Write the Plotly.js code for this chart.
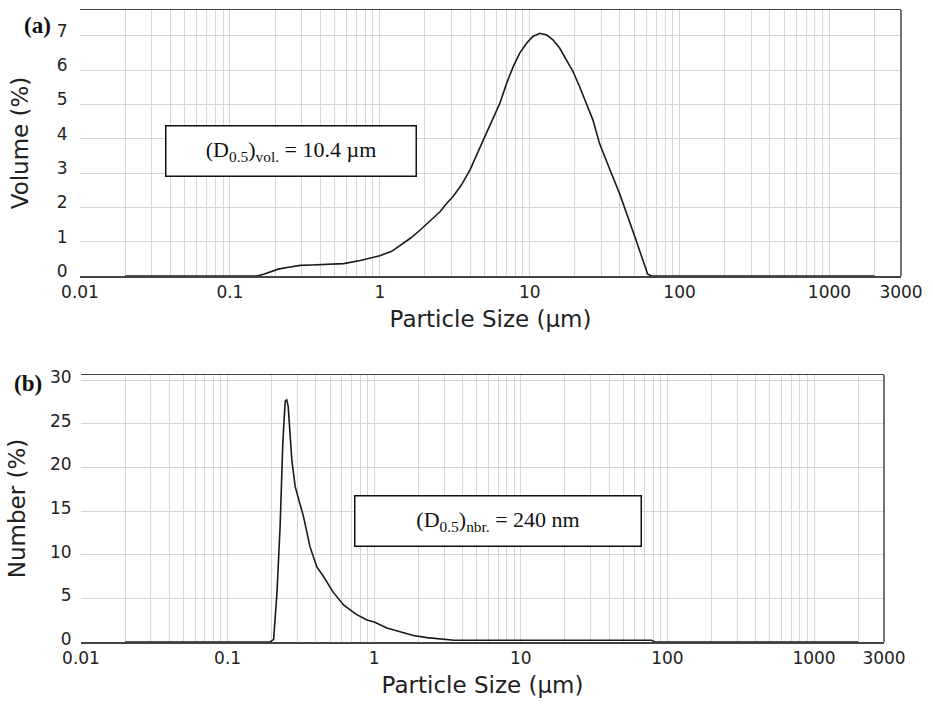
<!DOCTYPE html>
<html><head><meta charset="utf-8">
<script src="https://cdn.plot.ly/plotly-3.0.1.min.js"></script>
<style>html,body{margin:0;padding:0;background:#fff}</style>
</head><body><div id="chart" style="width:933px;height:707px"></div>
<script>
// Panel (a): volume distribution
const volSize = [0.02, 0.05, 0.1, 0.152, 0.17, 0.187, 0.21, 0.241, 0.27, 0.295, 0.35, 0.445, 0.574, 0.741, 0.85, 1.0, 1.2, 1.37, 1.6, 1.86, 2.2, 2.52, 2.8, 3.1, 3.5, 4.0, 4.9, 5.6, 6.32, 7.0, 7.76, 8.6, 9.53, 10.5, 11.7, 13.0, 14.3, 15.8, 17.6, 19.5, 21.5, 24.0, 26.4, 29.3, 32, 35, 39.8, 43, 48.5, 51.2, 54, 56.6, 59, 61.2, 64.9, 100, 500, 1000, 2000];
const volPct  = [0, 0, 0, 0, 0.06, 0.13, 0.2, 0.25, 0.29, 0.31, 0.32, 0.34, 0.36, 0.45, 0.52, 0.59, 0.72, 0.9, 1.1, 1.34, 1.62, 1.87, 2.12, 2.33, 2.65, 3.09, 3.96, 4.5, 5.03, 5.6, 6.1, 6.5, 6.78, 6.98, 7.07, 7.02, 6.88, 6.65, 6.3, 5.95, 5.52, 5.0, 4.55, 3.85, 3.45, 3.0, 2.4, 2.0, 1.34, 1.05, 0.75, 0.47, 0.22, 0.06, 0, 0, 0, 0, 0];
// Panel (b): number distribution
const nbrSize = [0.02, 0.1, 0.195, 0.206, 0.217, 0.228, 0.238, 0.247, 0.253, 0.259, 0.264, 0.274, 0.289, 0.313, 0.329, 0.365, 0.406, 0.451, 0.52, 0.618, 0.75, 0.891, 1.0, 1.22, 1.5, 1.85, 2.29, 2.97, 3.5, 10, 30, 78, 82, 200, 1000, 2000];
const nbrPct  = [0, 0, 0, 0.3, 5.6, 13.2, 22.8, 27.6, 27.75, 27.0, 24.7, 20.9, 17.8, 15.5, 14.4, 10.9, 8.6, 7.5, 5.8, 4.24, 3.2, 2.52, 2.3, 1.6, 1.18, 0.75, 0.5, 0.3, 0.2, 0.2, 0.2, 0.2, 0, 0, 0, 0];

const xTickVals = [0.01, 0.1, 1, 10, 100, 1000, 3000];
const xTickLabels = ['0.01', '0.1', '1', '10', '100', '1000', '3000'];
const volBoxText = '(D<sub>0.5</sub>)<sub>vol.</sub> = 10.4 µm';
const nbrBoxText = '(D<sub>0.5</sub>)<sub>nbr.</sub> = 240 nm';
const xTitle = 'Particle Size (µm)';
const yTitleA = 'Volume (%)';
const yTitleB = 'Number (%)';

// minor grid positions: 1..9 x 10^k
const gridVals = [];
for (let k = -2; k <= 3; k++) for (let m = 1; m <= 9; m++) { const v = m * Math.pow(10, k); if (v <= 3000.001) gridVals.push(v); }

const tickFont = {family: 'DejaVu Sans, Arial, sans-serif', size: 17, color: '#222'};
const titleFont = {family: 'DejaVu Sans, Arial, sans-serif', size: 23, color: '#222'};
const gridColor = '#d6d6d6';
const W = 933, H = 707;

function xAxis(domain, anchor) {
  return {
    type: 'log', domain: domain, anchor: anchor, automargin: false,
    range: [Math.log10(0.01), Math.log10(3000)],
    tickmode: 'array', tickvals: xTickVals, ticktext: xTickLabels,
    ticks: '', showgrid: true, gridcolor: gridColor, gridwidth: 1,
    minor: {tickmode: 'array', tickvals: gridVals, ticks: '', showgrid: true, gridcolor: gridColor, gridwidth: 1},
    showline: true, mirror: true, linecolor: '#444', linewidth: 1.5,
    zeroline: false, tickfont: tickFont,
    title: {text: xTitle, font: titleFont, standoff: 10}
  };
}
function yAxis(domain, pos, range, dtick, title, tlen, stand, shift) {
  return {
    domain: domain, anchor: 'free', position: pos, automargin: false, range: range,
    tickmode: 'linear', tick0: 0, dtick: dtick,
    ticks: 'outside', ticklen: tlen, tickcolor: 'rgba(0,0,0,0)',
    ticklabelshift: shift,
    showgrid: true, gridcolor: gridColor, gridwidth: 1,
    showline: false, zeroline: false, tickfont: tickFont,
    title: {text: title, font: titleFont, standoff: stand}
  };
}

const traces = [
  {x: volSize, y: volPct, xaxis: 'x', yaxis: 'y', mode: 'lines', line: {color: '#1a1a1a', width: 1.6}, hoverinfo: 'skip'},
  {x: nbrSize, y: nbrPct, xaxis: 'x2', yaxis: 'y2', mode: 'lines', line: {color: '#1a1a1a', width: 1.6}, hoverinfo: 'skip'}
];

const layout = {
  width: W, height: H, showlegend: false,
  margin: {l: 0, r: 0, t: 0, b: 0},
  paper_bgcolor: '#fff', plot_bgcolor: '#fff',
  xaxis: xAxis([80 / W, 901 / W], 'y'),
  yaxis: yAxis([1 - 276 / H, 1 - 10 / H], 80 / W, [0, 7.75], 1, yTitleA, 9, 20, -5),
  xaxis2: xAxis([81 / W, 884 / W], 'y2'),
  yaxis2: yAxis([1 - 642 / H, 1 - 375 / H], 81 / W, [0, 30.6], 5, yTitleB, 6, 16, -3),
  shapes: [
    {type: 'line', xref: 'x domain', yref: 'y domain', x0: 1, x1: 1, y0: 0, y1: 1, line: {color: '#444', width: 1.5}},
    {type: 'line', xref: 'x2 domain', yref: 'y2 domain', x0: 1, x1: 1, y0: 0, y1: 1, line: {color: '#444', width: 1.5}}
  ],
  annotations: [
    {xref: 'paper', yref: 'paper', x: 291 / W, y: 1 - 151 / H, xanchor: 'center', yanchor: 'middle',
     text: volBoxText, showarrow: false, width: 249, height: 49, borderpad: 0,
     bordercolor: '#111', borderwidth: 1.5, bgcolor: '#fff',
     font: {family: 'Liberation Serif, Times New Roman, serif', size: 22, color: '#111'}},
    {xref: 'paper', yref: 'paper', x: 498 / W, y: 1 - 521 / H, xanchor: 'center', yanchor: 'middle',
     text: nbrBoxText, showarrow: false, width: 285, height: 49, borderpad: 0,
     bordercolor: '#111', borderwidth: 1.5, bgcolor: '#fff',
     font: {family: 'Liberation Serif, Times New Roman, serif', size: 22, color: '#111'}},
    {xref: 'paper', yref: 'paper', x: 37 / W, y: 1 - 25 / H, xanchor: 'center', yanchor: 'middle',
     text: '<b>(a)</b>', showarrow: false,
     font: {family: 'Liberation Serif, Times New Roman, serif', size: 23, color: '#111'}},
    {xref: 'paper', yref: 'paper', x: 28 / W, y: 1 - 383 / H, xanchor: 'center', yanchor: 'middle',
     text: '<b>(b)</b>', showarrow: false,
     font: {family: 'Liberation Serif, Times New Roman, serif', size: 23, color: '#111'}}
  ]
};

Plotly.newPlot('chart', traces, layout, {staticPlot: true, displayModeBar: false});
</script>
</body></html>
